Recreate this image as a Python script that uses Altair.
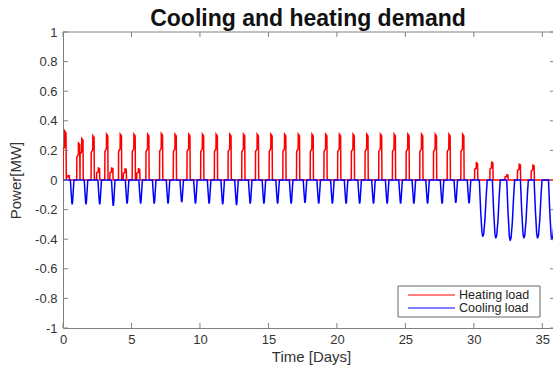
import altair as alt
import pandas as pd

# ---------------- data ----------------
series_names = ["Heating load", "Cooling load"]
series_colors = ["#ff0000", "#0000ff"]

# heating spikes: start day and peak power [MW]
heat_start = [0.00, 0.24, 1.00, 1.24, 2.05, 2.45, 3.05, 3.42, 4.05, 4.40, 5.05, 5.38,
              6.05, 7.05, 8.05, 9.05, 10.05, 11.05, 12.05, 13.05, 14.05, 15.05,
              16.05, 17.05, 18.05, 19.05, 20.05, 21.05, 22.05, 23.05, 24.05, 25.05,
              26.05, 27.05, 28.05, 29.05,
              30.05, 31.17, 32.27, 33.18, 34.18]
heat_peak = [0.33, 0.03, 0.25, 0.28, 0.30, 0.08, 0.31, 0.08, 0.31, 0.075, 0.31, 0.075,
             0.31, 0.315, 0.31, 0.31, 0.31, 0.31, 0.31, 0.31, 0.31, 0.31,
             0.31, 0.31, 0.31, 0.31, 0.31, 0.31, 0.31, 0.31, 0.31, 0.31,
             0.31, 0.31, 0.31, 0.31,
             0.117, 0.12, 0.034, 0.106, 0.10]
# spike profile (days after start, fraction of peak)
heat_shape_dt = [0.0, 0.01, 0.12, 0.13, 0.22, 0.24]
heat_shape_frac = [0.0, 0.62, 0.68, 1.0, 0.96, 0.0]

# cooling dips (days 0-29): centre day and minimum power [MW]
cool_small_center = [0.67, 1.68, 2.68, 3.67, 4.68, 5.67, 6.66, 7.67, 8.67, 9.67,
                     10.67, 11.66, 12.67, 13.67, 14.67, 15.67, 16.66, 17.67, 18.67, 19.67,
                     20.67, 21.66, 22.67, 23.67, 24.65, 25.62, 26.62, 27.68, 28.68, 29.65]
cool_small_depth = [-0.165, -0.165, -0.165, -0.175, -0.16, -0.16, -0.16, -0.16, -0.15, -0.16,
                    -0.16, -0.165, -0.17, -0.16, -0.16, -0.16, -0.16, -0.155, -0.16, -0.16,
                    -0.16, -0.16, -0.16, -0.16, -0.16, -0.16, -0.16, -0.16, -0.155, -0.158]
cool_small_dt = [-0.13, -0.07, -0.02, 0.0, 0.03, 0.08, 0.13]
cool_small_frac = [0.0, 0.55, 0.95, 1.0, 0.9, 0.45, 0.0]

# cooling dips (days 30-36)
cool_big_center = [30.65, 31.60, 32.65, 33.65, 34.65, 35.70]
cool_big_depth = [-0.383, -0.394, -0.41, -0.394, -0.394, -0.405]
cool_big_dt = [-0.25, -0.15, -0.06, 0.0, 0.07, 0.16, 0.26, 0.33]
cool_big_frac = [0.0, 0.55, 0.92, 1.0, 0.95, 0.7, 0.25, 0.0]

x_ticks = [0, 5, 10, 15, 20, 25, 30, 35]
y_ticks = [-1, -0.8, -0.6, -0.4, -0.2, 0, 0.2, 0.4, 0.6, 0.8, 1]

# ---------------- tables ----------------
def build(events, name):
    pts = [(0.0, 0.0)]
    for t0, amp, dts, fr in events:
        for dt, f in zip(dts, fr):
            pts.append((t0 + dt, amp * f))
    pts.append((36.5, 0.0))
    pts.sort(key=lambda p: p[0])
    return pd.DataFrame({"t": [p[0] for p in pts], "p": [p[1] for p in pts], "series": name})

heat_events = [(t, a, heat_shape_dt, heat_shape_frac) for t, a in zip(heat_start, heat_peak)]
cool_events = ([(c, d, cool_small_dt, cool_small_frac) for c, d in zip(cool_small_center, cool_small_depth)]
               + [(c, d, cool_big_dt, cool_big_frac) for c, d in zip(cool_big_center, cool_big_depth)])
heat_df = build(heat_events, series_names[0])
cool_df = build(cool_events, series_names[1])

W, H = 490, 296
FONT = "Liberation Sans"
AX = "#808080"
TXT = "#333333"

xscale = alt.Scale(domain=[0, 35.78], nice=False, zero=False)
yscale = alt.Scale(domain=[-1, 1], nice=False, zero=False)
cscale = alt.Scale(domain=series_names, range=series_colors)

x_axis = alt.Axis(values=x_ticks, ticks=False, grid=False, domainColor=AX, labelFont=FONT,
                  labelFontSize=13, labelColor=TXT, labelPadding=5, labelFlush=False,
                  labelOverlap=False, labelExpr="'' + datum.value",
                  title="Time [Days]", titleFont=FONT, titleFontSize=15, titleFontWeight="normal",
                  titleColor=TXT, titleY=28, titleBaseline="middle", titleX=248)
y_axis = alt.Axis(values=y_ticks, ticks=False, grid=False, domainColor=AX, labelFont=FONT,
                  labelFontSize=13, labelColor=TXT, labelPadding=6, labelOverlap=False,
                  labelFlush=False, labelExpr="'' + datum.value",
                  title="Power[MW]", titleFont=FONT, titleFontSize=15, titleFontWeight="normal",
                  titleColor=TXT, titleX=-48, titleY=H / 2, titleBaseline="middle", titleAlign="center",
                  titleAngle=270)

heat = alt.Chart(heat_df).mark_line(strokeWidth=1.5, clip=True).encode(
    x=alt.X("t:Q", scale=xscale, axis=x_axis),
    y=alt.Y("p:Q", scale=yscale, axis=y_axis),
    color=alt.Color("series:N", scale=cscale, legend=None),
)
cool = alt.Chart(cool_df).mark_line(strokeWidth=1.5, clip=True).encode(
    x=alt.X("t:Q", scale=xscale, axis=x_axis),
    y=alt.Y("p:Q", scale=yscale, axis=y_axis),
    color=alt.Color("series:N", scale=cscale, legend=None),
)

xt = pd.DataFrame({"v": x_ticks})
yt = pd.DataFrame({"v": y_ticks})
one = pd.DataFrame({"a": [0]})

tick_layers = [
    alt.Chart(yt).mark_rule(color=AX, strokeWidth=1).encode(
        y=alt.Y("v:Q", axis=y_axis), x=alt.value(0), x2=alt.value(5)),
    alt.Chart(yt).mark_rule(color=AX, strokeWidth=1).encode(
        y=alt.Y("v:Q", axis=y_axis), x=alt.value(W - 3), x2=alt.value(W)),
    alt.Chart(xt).mark_rule(color=AX, strokeWidth=1).encode(
        x=alt.X("v:Q", axis=x_axis), y=alt.value(H - 5), y2=alt.value(H)),
    alt.Chart(xt).mark_rule(color=AX, strokeWidth=1).encode(
        x=alt.X("v:Q", axis=x_axis), y=alt.value(0), y2=alt.value(5)),
    alt.Chart(one).mark_rule(color=AX, strokeWidth=1).encode(
        x=alt.value(0), x2=alt.value(W), y=alt.value(0)),
]

legend_layers = [
    alt.Chart(one).mark_rect(fill="white", stroke="#666666", strokeWidth=1).encode(
        x=alt.value(335), x2=alt.value(477), y=alt.value(254), y2=alt.value(285)),
]
leg_df = pd.DataFrame({"series": series_names})
for i, name in enumerate(series_names):
    row = leg_df.iloc[[i]]
    yy = 263 + 13 * i
    legend_layers.append(
        alt.Chart(row).mark_rule(strokeWidth=1.2).encode(
            x=alt.value(345), x2=alt.value(392), y=alt.value(yy),
            color=alt.value(series_colors[i])))
    legend_layers.append(
        alt.Chart(row).mark_text(align="left", baseline="middle", font=FONT, fontSize=12.5,
                                 color="#222222").encode(
            x=alt.value(396), y=alt.value(yy), text="series:N"))

chart = alt.layer(heat, cool, *tick_layers, *legend_layers).properties(
    width=W, height=H,
    autosize=alt.AutoSizeParams(type="none"),
    padding={"left": 63, "top": 32, "right": 0, "bottom": 39},
    background="white",
    title=alt.TitleParams("Cooling and heating demand", font=FONT, fontSize=23,
                          fontWeight="bold", color="#111111", anchor="middle",
                          baseline="alphabetic", offset=7, dy=30),
).configure_view(strokeWidth=0).configure_axis(labelOverlap=False)

chart.save("out.html", embed_options={"renderer": "svg", "actions": False})
